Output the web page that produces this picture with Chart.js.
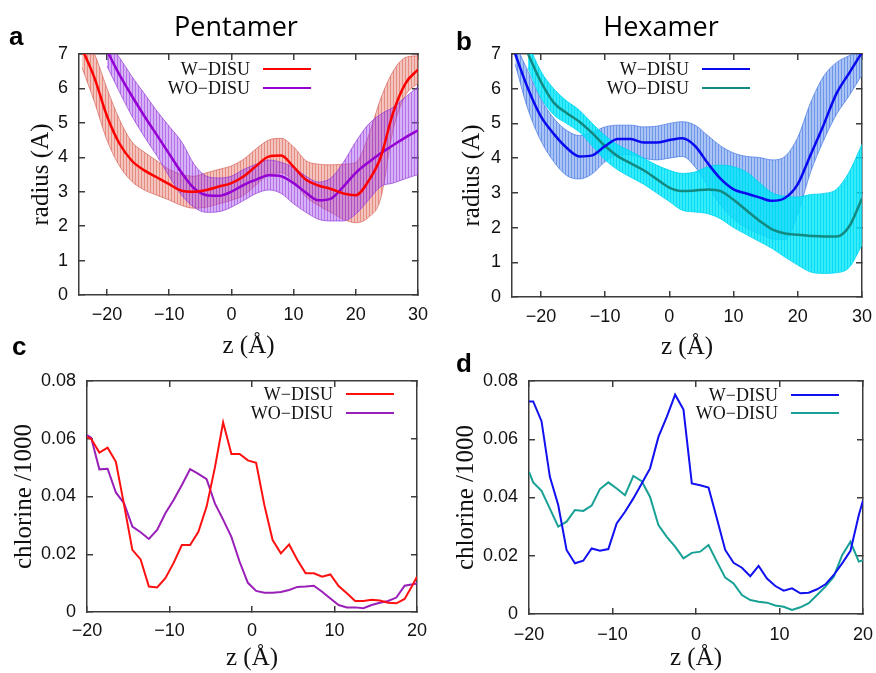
<!DOCTYPE html>
<html>
<head>
<meta charset="utf-8">
<script src="https://cdn.jsdelivr.net/npm/chart.js@4.4.1/dist/chart.umd.min.js"></script>
<style>
  body { margin: 0; background: #fff; }
  #wrap { position: relative; width: 876px; height: 673px; background: #fff; overflow: hidden; }
  #wrap canvas { position: absolute; }
  .ttl { position: absolute; width: 200px; text-align: center; font: 27px "Open Sans", sans-serif; line-height: 27px; color: #000; z-index: 2; }
  .lbl { position: absolute; font: bold 26px "Liberation Sans", Arial, sans-serif; line-height: 26px; color: #000; z-index: 2; }
</style>
</head>
<body>
<div id="wrap">
  <div class="ttl" style="left:136px; top:12px;">Pentamer</div>
  <div class="ttl" style="left:561px; top:12px;">Hexamer</div>
  <div class="lbl" style="left:9px; top:23px;">a</div>
  <div class="lbl" style="left:456px; top:28px;">b</div>
  <div class="lbl" style="left:12px; top:333px;">c</div>
  <div class="lbl" style="left:456px; top:350px;">d</div>
  <canvas id="chartA" width="436" height="322" style="left:0; top:40px;"></canvas>
  <canvas id="chartB" width="440" height="322" style="left:436px; top:40px;"></canvas>
  <canvas id="chartC" width="436" height="313" style="left:0; top:360px;"></canvas>
  <canvas id="chartD" width="440" height="313" style="left:436px; top:360px;"></canvas>
</div>
<script>
// ---- data: pore radius profiles (mean and mean +/- std) ----
var zRadius = [-24, -22, -20, -18, -16, -14, -12, -10, -8, -6, -4, -2, 0, 2, 4, 6, 8, 10, 12, 14, 16, 18, 20, 22, 24, 26, 28, 30];

var pentaW   = [7.15, 6.3, 5.2, 4.4, 3.9, 3.62, 3.42, 3.22, 3.03, 3.0, 3.05, 3.15, 3.25, 3.45, 3.75, 4.02, 4.05, 3.72, 3.35, 3.18, 3.08, 2.95, 2.9, 3.3, 4.0, 5.3, 6.15, 6.55];
var pentaWHi = [7.7, 7.0, 6.0, 5.1, 4.45, 4.15, 3.9, 3.65, 3.5, 3.45, 3.55, 3.65, 3.75, 3.95, 4.25, 4.5, 4.55, 4.3, 3.9, 3.8, 3.78, 3.8, 3.85, 4.6, 5.7, 6.5, 6.9, 6.95];
var pentaWLo = [6.6, 5.6, 4.5, 3.75, 3.3, 3.05, 2.9, 2.76, 2.6, 2.52, 2.55, 2.65, 2.75, 2.9, 3.2, 3.5, 3.55, 3.3, 2.85, 2.6, 2.4, 2.2, 2.1, 2.25, 2.8, 4.8, 5.8, 6.15];

var pentaWO   = [null, null, 7.1, 6.4, 5.78, 5.2, 4.65, 4.1, 3.55, 3.1, 2.9, 2.88, 3.0, 3.2, 3.35, 3.48, 3.45, 3.25, 2.97, 2.75, 2.8, 3.15, 3.55, 3.85, 4.12, 4.35, 4.58, 4.78];
var pentaWOHi = [null, null, 7.4, 6.9, 6.35, 5.85, 5.35, 4.9, 4.45, 3.8, 3.45, 3.4, 3.45, 3.65, 3.8, 3.92, 3.85, 3.7, 3.45, 3.28, 3.4, 3.85, 4.45, 4.95, 5.25, 5.45, 5.75, 6.05];
var pentaWOLo = [null, null, 6.65, 5.9, 5.2, 4.6, 4.05, 3.45, 2.9, 2.55, 2.4, 2.42, 2.55, 2.75, 2.95, 3.05, 2.95, 2.65, 2.4, 2.2, 2.15, 2.15, 2.35, 2.75, 3.15, 3.25, 3.38, 3.5];

var hexaW   = [7.0, 6.0, 5.2, 4.7, 4.3, 4.05, 4.08, 4.35, 4.55, 4.55, 4.45, 4.45, 4.52, 4.57, 4.35, 3.85, 3.4, 3.1, 2.98, 2.87, 2.77, 2.85, 3.25, 4.1, 4.95, 5.85, 6.45, 7.05];
var hexaWHi = [7.3, 6.5, 5.7, 5.15, 4.8, 4.65, 4.75, 4.9, 4.95, 4.95, 4.9, 4.92, 5.0, 5.05, 4.95, 4.65, 4.35, 4.15, 4.05, 4.02, 3.95, 4.05, 4.6, 5.6, 6.35, 6.75, 6.95, 7.1];
var hexaWLo = [6.7, 5.4, 4.5, 3.9, 3.5, 3.4, 3.55, 3.9, 4.1, 4.1, 4.0, 3.95, 4.0, 4.05, 3.75, 3.2, 2.65, 2.25, 2.0, 1.82, 1.68, 1.65, 2.4, 3.6, 4.5, 5.25, 5.8, 6.4];

var hexaWO   = [null, 7.0, 6.2, 5.6, 5.3, 5.05, 4.72, 4.35, 4.05, 3.85, 3.65, 3.4, 3.15, 3.05, 3.07, 3.1, 3.05, 2.8, 2.5, 2.2, 1.95, 1.83, 1.79, 1.76, 1.74, 1.74, 2.03, 2.84];
var hexaWOHi = [null, 7.3, 6.5, 6.0, 5.65, 5.38, 5.0, 4.65, 4.38, 4.2, 4.0, 3.8, 3.65, 3.56, 3.6, 3.75, 3.8, 3.75, 3.6, 3.3, 3.0, 2.9, 2.88, 2.95, 2.98, 3.1, 3.6, 4.4];
var hexaWOLo = [null, 6.6, 5.75, 5.25, 5.0, 4.75, 4.35, 3.95, 3.66, 3.45, 3.25, 3.0, 2.75, 2.5, 2.45, 2.4, 2.25, 2.0, 1.8, 1.6, 1.4, 1.15, 0.92, 0.72, 0.68, 0.7, 0.85, 1.5];

// ---- data: chlorine density along z ----
var zChl = [-20, -19.5, -18.5, -17.5, -16.5, -15.5, -14.5, -13.5, -12.5, -11.5, -10.5, -9.5, -8.5, -7.5, -6.5, -5.5, -4.5, -3.5, -2.5, -1.5, -0.5,
            0.5, 1.5, 2.5, 3.5, 4.5, 5.5, 6.5, 7.5, 8.5, 9.5, 10.5, 11.5, 12.5, 13.5, 14.5, 15.5, 16.5, 17.5, 18.5, 19.5, 20];

var chlPentaW  = [0.0605, 0.060, 0.0552, 0.0569, 0.052, 0.037, 0.0215, 0.0182, 0.0088, 0.0085, 0.0117, 0.017, 0.0232, 0.0232, 0.0278, 0.0365, 0.050, 0.0657, 0.0547, 0.0547, 0.0525,
                  0.0517, 0.037, 0.0249, 0.0203, 0.0234, 0.018, 0.0134, 0.0134, 0.0122, 0.013, 0.009, 0.0065, 0.0038, 0.0038, 0.0042, 0.004, 0.0032, 0.003, 0.0045, 0.0095, 0.0122];
var chlPentaWO = [0.0613, 0.0604, 0.0494, 0.0496, 0.0414, 0.0376, 0.0296, 0.0276, 0.0253, 0.0284, 0.0342, 0.0388, 0.044, 0.0495, 0.0478, 0.046, 0.0376, 0.032, 0.026, 0.0174, 0.0101,
                  0.0073, 0.0067, 0.0067, 0.0069, 0.0076, 0.0087, 0.0088, 0.0091, 0.007, 0.0047, 0.0024, 0.0016, 0.0016, 0.0013, 0.0024, 0.0032, 0.0038, 0.005, 0.0091, 0.0096, 0.0099];
var chlHexaW   = [0.073, 0.073, 0.0662, 0.0471, 0.0374, 0.022, 0.0174, 0.0183, 0.0225, 0.0217, 0.0223, 0.0311, 0.0351, 0.0397, 0.0448, 0.05, 0.0608, 0.0677, 0.0753, 0.0702, 0.0448,
                  0.0442, 0.0434, 0.0328, 0.022, 0.0176, 0.0159, 0.013, 0.0165, 0.0122, 0.0096, 0.008, 0.0088, 0.0071, 0.0073, 0.0085, 0.0102, 0.0134, 0.0174, 0.0217, 0.034, 0.039];
var chlHexaWO  = [0.0488, 0.0452, 0.0423, 0.0362, 0.03, 0.0317, 0.0357, 0.0354, 0.0372, 0.0429, 0.0452, 0.0431, 0.0408, 0.0474, 0.0456, 0.0402, 0.0305, 0.0265, 0.0231, 0.0191, 0.021,
                  0.0214, 0.0237, 0.018, 0.0125, 0.0105, 0.0065, 0.0048, 0.0042, 0.0039, 0.0029, 0.0025, 0.0014, 0.0023, 0.0037, 0.0065, 0.0094, 0.0128, 0.0202, 0.0248, 0.018, 0.0185];

// ---- tick labels ----
var radiusTicks = [0, 1, 2, 3, 4, 5, 6, 7];
var zRadiusTicks = [-20, -10, 0, 10, 20, 30];
var chlTicks = [0, 0.02, 0.04, 0.06, 0.08];
var zChlTicks = [-20, -10, 0, 10, 20];

var tickFont = { family: "'Liberation Sans', Arial, sans-serif", size: 18 };
var titleFont = { family: "'Liberation Serif', 'Times New Roman', serif", size: 25, lineHeight: 1.2 };
var frameColor = '#3c3c3c';
var tickIn = 6; // gnuplot ticks point into the plot

function zip(xs, ys) {
  return xs.map((x, i) => ({ x: x, y: ys[i] }));
}

function minus(v) {
  return String(v).replace('-', '\u2212');
}

// vertical hatching like gnuplot's dense error bars
function hatch(ctx, base, stripe) {
  let c = document.createElement('canvas');
  c.width = 3;
  c.height = 4;
  let g = c.getContext('2d');
  g.fillStyle = base;
  g.fillRect(0, 0, 3, 4);
  g.fillStyle = stripe;
  g.fillRect(0, 0, 1, 4);
  return ctx.createPattern(c, 'repeat');
}

function meanLine(label, z, ys, color, width, smooth, order) {
  return {
    label: label, showInLegend: true, data: zip(z, ys),
    borderColor: color, borderWidth: width, fill: false, order: order,
    cubicInterpolationMode: smooth ? 'monotone' : 'default', tension: 0,
  };
}

function band(z, hi, lo, pattern, edge, order) {
  return [
    { data: zip(z, hi), borderColor: edge, borderWidth: 1, backgroundColor: pattern,
      fill: '+1', order: order, cubicInterpolationMode: 'monotone' },
    { data: zip(z, lo), borderColor: edge, borderWidth: 1, fill: false,
      order: order, cubicInterpolationMode: 'monotone' },
  ];
}

// legend inside the plot: label right-aligned, then a short line sample
const boxLegend = {
  id: 'boxLegend',
  afterDraw(chart, args, opts) {
    const c = chart.ctx;
    const a = chart.chartArea;
    c.save();
    c.font = "18px 'Liberation Serif', 'Times New Roman', serif";
    c.textAlign = 'right';
    c.textBaseline = 'middle';
    chart.data.datasets.filter((d) => d.showInLegend).forEach((d, i) => {
      let yy = Math.round(a.top + opts.top + i * opts.gap);
      let xr = a.left + opts.textRight;
      c.fillStyle = '#111';
      c.fillText(d.label, xr, yy + 1);
      c.fillStyle = d.borderColor;
      c.fillRect(xr + 13, yy - 1, 48, 2);
    });
    c.restore();
  },
};

// one axis: fixed size, no automatic label padding, border + inward tick marks
function axis(pos, min, max, tickVals, size, extra) {
  const horiz = pos === 'top' || pos === 'bottom';
  return Object.assign({
    type: 'linear', position: pos, min: min, max: max,
    grid: { display: true, drawOnChartArea: false, drawTicks: true, tickLength: -tickIn, color: frameColor, lineWidth: 1.5 },
    border: { display: true, color: frameColor, width: 1.5 },
    afterBuildTicks: (s) => { s.ticks = tickVals.map((v) => ({ value: v })); },
    afterFit: (s) => {
      if (horiz) s.height = size; else s.width = size;
      s.paddingTop = 0; s.paddingBottom = 0; s.paddingLeft = 0; s.paddingRight = 0;
    },
  }, extra);
}

function makePanel(canvasId, p) {
  const ctx = document.getElementById(canvasId).getContext('2d');
  return new Chart(ctx, {
    type: 'line',
    data: { datasets: p.datasets(ctx) },
    options: {
      responsive: false,
      animation: false,
      events: [],
      layout: { padding: p.padding },
      elements: { point: { radius: 0 } },
      plugins: {
        legend: { display: false },
        tooltip: { enabled: false },
        boxLegend: p.legend,
      },
      scales: {
        x: axis('bottom', p.xMin, p.xMax, p.xTicks, p.xHeight, {
          ticks: { padding: p.xPad + tickIn, color: '#111', font: tickFont, maxRotation: 0, callback: (v) => minus(v) },
          title: { display: true, text: 'z (\u00c5)', color: '#111', font: titleFont, padding: { top: 0, bottom: p.xTitlePad } },
        }),
        x2: axis('top', p.xMin, p.xMax, p.xTicks, 0, { ticks: { display: false } }),
        y: axis('left', p.yMin, p.yMax, p.yTicks, p.yWidth, {
          ticks: { padding: 11 + tickIn, color: '#111', font: tickFont, callback: p.yFormat },
          title: { display: true, text: p.yTitle, color: '#111', font: titleFont, padding: { top: p.yTitlePad, bottom: 0 } },
        }),
        y2: axis('right', p.yMin, p.yMax, p.yTicks, 0, { ticks: { display: false } }),
      },
    },
    plugins: [boxLegend],
  });
}

var fmtInt = (v) => String(v);
var fmtChl = (v) => (v === 0 ? '0' : v.toFixed(2));

makePanel('chartA', {
  padding: { left: 0, top: 14, right: 18, bottom: 0 },
  xMin: -24.5, xMax: 30, xTicks: zRadiusTicks, xHeight: 67, xPad: 9, xTitlePad: 1,
  yMin: 0, yMax: 7, yTicks: radiusTicks, yWidth: 79, yTitle: 'radius (A)', yTitlePad: 26, yFormat: fmtInt,
  legend: { textRight: 171, top: 15, gap: 19 },
  datasets: (ctx) => [
    meanLine('W\u2212DISU', zRadius, pentaW, '#ff0000', 2.5, true, 0),
    meanLine('WO\u2212DISU', zRadius, pentaWO, '#9400d3', 2.5, true, 1),
    ...band(zRadius, pentaWHi, pentaWLo, hatch(ctx, 'rgba(225,105,90,0.4)', 'rgba(220,85,70,0.5)'), 'rgba(210,80,70,0.6)', 5),
    ...band(zRadius, pentaWOHi, pentaWOLo, hatch(ctx, 'rgba(160,70,230,0.42)', 'rgba(150,55,225,0.52)'), 'rgba(140,50,215,0.65)', 4),
  ],
});

makePanel('chartB', {
  padding: { left: 0, top: 14, right: 14, bottom: 0 },
  xMin: -24.5, xMax: 30, xTicks: zRadiusTicks, xHeight: 65, xPad: 9, xTitlePad: 0,
  yMin: 0, yMax: 7, yTicks: radiusTicks, yWidth: 76, yTitle: 'radius (A)', yTitlePad: 21, yFormat: fmtInt,
  legend: { textRight: 177, top: 15, gap: 19 },
  datasets: (ctx) => [
    meanLine('W\u2212DISU', zRadius, hexaW, '#0a0af0', 2.5, true, 0),
    meanLine('WO\u2212DISU', zRadius, hexaWO, '#128a82', 2.5, true, 1),
    ...band(zRadius, hexaWOHi, hexaWOLo, hatch(ctx, 'rgba(0,230,250,0.78)', 'rgba(0,218,245,0.88)'), 'rgba(0,210,240,0.85)', 4),
    ...band(zRadius, hexaWHi, hexaWLo, hatch(ctx, 'rgba(75,130,232,0.48)', 'rgba(65,115,228,0.58)'), 'rgba(80,125,228,0.75)', 5),
  ],
});

makePanel('chartC', {
  padding: { left: 0, top: 21, right: 19, bottom: 0 },
  xMin: -20, xMax: 20, xTicks: zChlTicks, xHeight: 61, xPad: 8, xTitlePad: 0,
  yMin: 0, yMax: 0.08, yTicks: chlTicks, yWidth: 87, yTitle: 'chlorine /1000', yTitlePad: 9, yFormat: fmtChl,
  legend: { textRight: 246, top: 13, gap: 19 },
  datasets: () => [
    meanLine('W\u2212DISU', zChl, chlPentaW, '#ff1010', 2, false, 0),
    meanLine('WO\u2212DISU', zChl, chlPentaWO, '#9a1fb8', 2, false, 1),
  ],
});

makePanel('chartD', {
  padding: { left: 0, top: 21, right: 13, bottom: 0 },
  xMin: -20, xMax: 20, xTicks: zChlTicks, xHeight: 59, xPad: 10, xTitlePad: 0,
  yMin: 0, yMax: 0.08, yTicks: chlTicks, yWidth: 93, yTitle: 'chlorine /1000', yTitlePad: 15, yFormat: fmtChl,
  legend: { textRight: 249, top: 14, gap: 18 },
  datasets: () => [
    meanLine('W\u2212DISU', zChl, chlHexaW, '#1010f0', 2, false, 0),
    meanLine('WO\u2212DISU', zChl, chlHexaWO, '#17a095', 2, false, 1),
  ],
});
</script>
</body>
</html>
